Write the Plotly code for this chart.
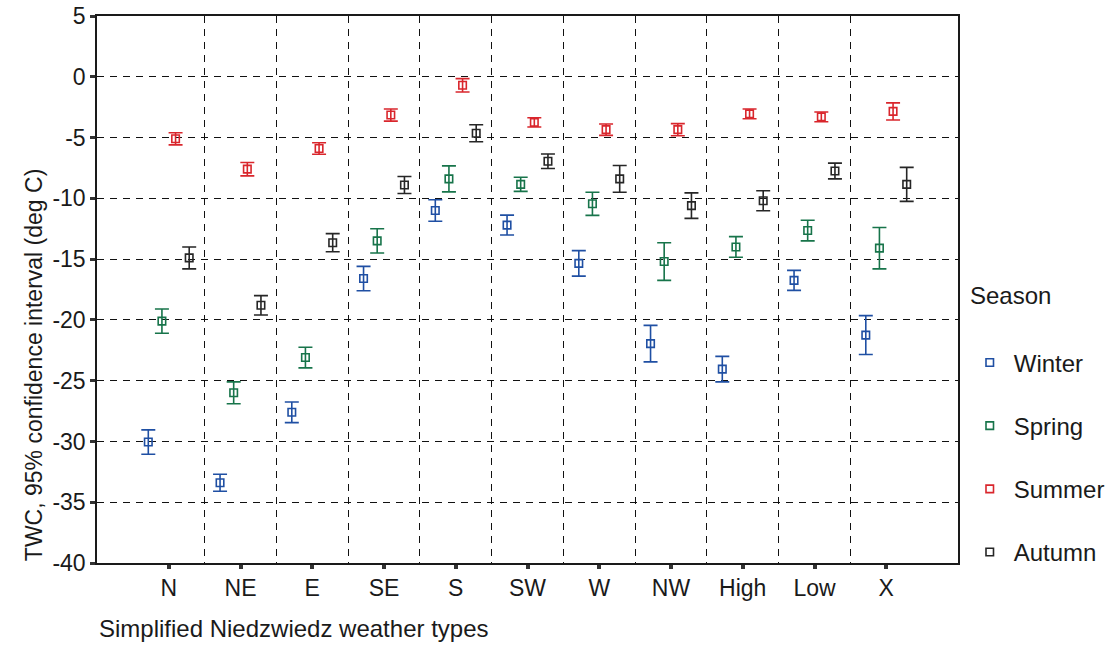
import plotly.graph_objects as go

categories = ["N", "NE", "E", "SE", "S", "SW", "W", "NW", "High", "Low", "X"]
seasons = ["Winter", "Spring", "Summer", "Autumn"]

winter_mean = [-30.05, -33.4, -27.6, -16.6, -11.0, -12.2, -15.35, -21.95, -24.05, -16.75, -21.25]
winter_ci = [1.0, 0.7, 0.85, 1.0, 0.88, 0.82, 1.05, 1.5, 1.05, 0.82, 1.6]

spring_mean = [-20.1, -26.0, -23.1, -13.5, -8.4, -8.85, -10.45, -15.2, -14.0, -12.65, -14.1]
spring_ci = [1.0, 0.9, 0.85, 1.0, 1.07, 0.58, 0.95, 1.55, 0.85, 0.85, 1.7]

summer_mean = [-5.1, -7.6, -5.9, -3.15, -0.7, -3.75, -4.35, -4.35, -3.05, -3.3, -2.85]
summer_ci = [0.5, 0.55, 0.47, 0.5, 0.55, 0.38, 0.47, 0.5, 0.4, 0.4, 0.7]

autumn_mean = [-14.9, -18.8, -13.65, -8.9, -4.65, -6.95, -8.4, -10.6, -10.2, -7.75, -8.85]
autumn_ci = [0.9, 0.8, 0.75, 0.7, 0.7, 0.6, 1.1, 1.05, 0.82, 0.65, 1.4]

y_ticks = [5, 0, -5, -10, -15, -20, -25, -30, -35, -40]
y_tick_labels = ["5", "0", "-5", "-10", "-15", "-20", "-25", "-30", "-35", "-40"]

means = [winter_mean, spring_mean, summer_mean, autumn_mean]
cis = [winter_ci, spring_ci, summer_ci, autumn_ci]
colors = ["#1f4fa3", "#17744a", "#d9262c", "#262626"]

x_pos = list(range(len(categories)))
boundaries = [i + 0.5 for i in x_pos[:-1]]

FONT = "Liberation Sans, Arial, sans-serif"

fig = go.Figure()
for name, m, c, col in zip(seasons, means, cis, colors):
    fig.add_trace(go.Scatter(
        x=x_pos, y=m, name=name, mode="markers",
        offsetgroup=name, legendgroup=name,
        marker=dict(symbol="square-open", size=7.5, color=col, line=dict(width=1.6, color=col)),
        error_y=dict(type="data", array=c, visible=True, color=col, thickness=1.6, width=7),
    ))

fig.update_layout(
    width=1112, height=654,
    margin=dict(l=97, r=154, t=16, b=91, autoexpand=False),
    paper_bgcolor="white", plot_bgcolor="white",
    scattermode="group", scattergap=0.24,
    font=dict(family=FONT, size=23, color="#1a1a1a"),
    showlegend=True,
    legend=dict(
        x=1.009, xanchor="left", y=0.407, yanchor="top",
        font=dict(size=24), tracegroupgap=29, itemwidth=38,
        bgcolor="rgba(0,0,0,0)", borderwidth=0,
    ),
)

fig.update_xaxes(
    range=[-1, 11], tickmode="array", tickvals=x_pos, ticktext=categories,
    showgrid=False, zeroline=False,
    showline=True, linecolor="#1a1a1a", linewidth=1.5, mirror=True,
    ticks="outside", ticklen=4, tickwidth=4, tickcolor="#333",
    tickfont=dict(size=23),
    minor=dict(tickvals=boundaries, showgrid=True, gridcolor="#111",
               gridwidth=1.3, griddash="7px,6px", ticks=""),
)
fig.update_yaxes(
    range=[-40, 5], tickmode="array", tickvals=y_ticks, ticktext=y_tick_labels,
    showgrid=True, gridcolor="#111", gridwidth=1.3, griddash="7px,6px",
    zeroline=False,
    showline=True, linecolor="#1a1a1a", linewidth=1.5, mirror=True,
    ticks="outside", ticklen=5, tickwidth=3, tickcolor="#333",
    tickfont=dict(size=23),
)

fig.add_annotation(
    text="Season", xref="paper", yref="paper", x=1.0115, y=0.489,
    xanchor="left", yanchor="middle", showarrow=False, font=dict(size=24),
)
fig.add_annotation(
    text="TWC, 95% confidence interval (deg C)", textangle=-90,
    xref="paper", yref="paper", x=-0.073, y=0, xanchor="center", yanchor="bottom",
    showarrow=False, font=dict(size=23),
)
fig.add_annotation(
    text="Simplified Niedzwiedz weather types",
    xref="paper", yref="paper", x=0, y=-0.119, xanchor="left", yanchor="middle",
    showarrow=False, font=dict(size=24),
)

fig.write_html("out.html")
